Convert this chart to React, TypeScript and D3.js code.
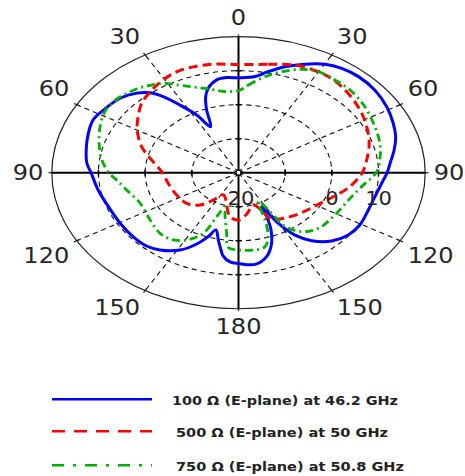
import * as d3 from "d3";

// polar pattern, dB values (angle in degrees, clockwise from top)
const blueAngles = [0.7, 7.1, 12.1, 17.7, 23.0, 30.2, 35.8, 42.3, 50.3, 58.6, 66.3, 72.5, 78.7, 85.1, 90.3, 94.0, 101.6, 111.5, 120.6, 127.9, 135.2, 141.9, 146.6, 150.2, 153.6, 155.0, 157.5, 161.1, 166.3, 172.5, 180.0, 184.0, 187.7, 189.9, 192.3, 196.0, 199.0, 203.1, 208.9, 216.5, 222.4, 230.1, 239.6, 250.3, 260.4, 270.0, 274.9, 281.5, 289.8, 296.5, 302.5, 310.8, 317.0, 321.1, 324.2, 327.8, 332.2, 336.2, 339.7, 342.5, 345.4, 350.3, 354.8];
const blueDb = [7.9, 8.5, 10.4, 12.7, 14.6, 16.9, 17.8, 18.2, 18.0, 17.2, 16.2, 15.3, 14.0, 12.6, 11.8, 11.1, 10.2, 9.9, 10.2, 9.8, 8.3, 5.4, 2.0, -2.8, -8.8, -5.7, -1.8, 1.9, 5.4, 7.2, 6.7, 6.3, 4.7, 2.5, 0.3, -2.5, -0.1, 2.8, 6.0, 8.3, 9.2, 9.4, 9.4, 9.6, 10.5, 11.6, 12.6, 13.3, 14.2, 14.8, 14.3, 13.5, 12.0, 10.2, 7.6, 3.5, -0.8, -5.2, -0.3, 3.4, 5.7, 7.7, 8.1];

const redAngles = [0, 11.3, 20.9, 27.3, 34.3, 41.2, 50.1, 58.4, 67.4, 74.7, 82.3, 90.0, 99.8, 109.2, 119.6, 132.2, 144.4, 153.6, 155.3, 161.5, 171.8, 180.0, 188.0, 206.4, 213.9, 221.0, 230.9, 243.6, 258.3, 270.0, 281.4, 290.2, 300.1, 307.5, 314.5, 321.5, 329.4, 335.9, 342.7, 350.4];
const redDb = [11.8, 12.5, 13.9, 14.2, 14.2, 13.6, 12.5, 11.4, 10.1, 9.0, 7.7, 6.5, 4.2, 1.5, -0.7, -2.2, -3.5, -4.8, -7.3, -10.0, -7.7, -6.1, -6.9, -12.7, -10.3, -7.4, -5.7, -5.2, -4.6, -3.7, -1.0, 2.1, 5.1, 7.1, 9.1, 10.4, 11.7, 12.5, 12.6, 12.4];

const greenAngles = [0.8, 4.7, 11.4, 17.3, 24.0, 29.9, 37.2, 44.5, 54.4, 65.2, 74.1, 81.2, 89.5, 98.9, 108.8, 121.0, 133.7, 142.0, 147.9, 149.2, 153.6, 157.8, 161.3, 165.4, 171.2, 180.0, 185.9, 188.1, 193.1, 196.1, 199.9, 202.9, 209.3, 215.2, 223.3, 233.7, 246.9, 258.0, 265.3, 270.0, 277.3, 286.2, 294.5, 302.1, 307.9, 315.7, 322.4, 328.5, 334.6, 341.0, 347.6, 353.9];
const greenDb = [4.3, 5.9, 8.8, 11.1, 13.3, 14.3, 14.2, 14.1, 13.3, 12.2, 11.5, 10.7, 9.6, 6.7, 4.9, 4.1, 3.7, 2.0, -1.3, -6.1, -10.5, -5.0, -0.1, 2.5, 3.0, 2.7, 2.0, -2.0, -7.2, -9.6, -6.2, -0.6, 2.7, 4.2, 4.5, 3.5, 2.9, 4.5, 6.2, 7.8, 9.5, 11.1, 12.6, 13.8, 14.0, 13.3, 12.2, 10.8, 8.4, 6.5, 5.0, 4.0];

const seriesNames = [
  "100 Ω (E-plane) at 46.2 GHz",
  "500 Ω (E-plane) at 50 GHz",
  "750 Ω (E-plane) at 50.8 GHz",
];

const angleTicks = [0, 30, 60, 90, 120, 150, 180, 210, 240, 270, 300, 330];
const ringTicks = [-10, 0, 10];
const ringLabels = ["20", "0", "10"];
const ringLabelValues = [-20, 0, 10];

const W = 465;
const H = 476;
const cx = 238.5;
const cy = 172.7;
const rx = 186.7;
const ry = 136;

const rScale = d3.scaleLinear().domain([-20, 20]).range([0, 1]);

const pt = (deg: number, db: number): [number, number] => {
  const t = (deg * Math.PI) / 180;
  const k = rScale(db);
  return [cx + rx * k * Math.sin(t), cy - ry * k * Math.cos(t)];
};

const sgn = (v: number) => (Math.abs(v) < 1e-6 ? 0 : Math.sign(v));

const series = [
  { angles: blueAngles, values: blueDb, color: "#0000ff", dash: "none", legendDash: "none", width: 3 },
  { angles: redAngles, values: redDb, color: "#ff0000", dash: "9,5", legendDash: "13,9", width: 3 },
  { angles: greenAngles, values: greenDb, color: "#00b000", dash: "8,4,2,4", legendDash: "12,9,3,9", width: 2.8 },
];

const line = d3
  .line<[number, number]>()
  .curve(d3.curveCatmullRomClosed.alpha(0.5));

const ellipsePath = (db: number) => {
  const k = rScale(db);
  return `M${cx - rx * k},${cy} a${rx * k},${ry * k} 0 1,0 ${2 * rx * k},0 a${rx * k},${ry * k} 0 1,0 ${-2 * rx * k},0`;
};

const App = () => {
  const fontLab = "'DejaVu Sans', Verdana, sans-serif";
  return (
    <svg width={W} height={H} style={{ position: "absolute", left: 0, top: 0, background: "#fff" }}>
      {/* dashed rings */}
      {ringTicks.map((r) => (
        <path key={r} d={ellipsePath(r)} fill="none" stroke="#111" strokeWidth={1.1} strokeDasharray="5,4" />
      ))}
      {/* dashed radials */}
      {angleTicks
        .filter((a) => a % 90 !== 0)
        .map((a) => {
          const [x, y] = pt(a, 20);
          return <line key={a} x1={cx} y1={cy} x2={x} y2={y} stroke="#111" strokeWidth={1.1} strokeDasharray="5,4" />;
        })}
      {/* outer ring */}
      <path d={ellipsePath(20)} fill="none" stroke="#222" strokeWidth={1.2} />
      {/* outer ticks */}
      {angleTicks.map((a) => {
        const [x1, y1] = pt(a, 19.3);
        const [x2, y2] = pt(a, 20.7);
        return <line key={a} x1={x1} y1={y1} x2={x2} y2={y2} stroke="#222" strokeWidth={1.2} />;
      })}
      {/* main axes */}
      <line x1={cx - rx} y1={cy} x2={cx + rx} y2={cy} stroke="#000" strokeWidth={2} />
      <line x1={cx} y1={cy - ry} x2={cx} y2={cy + ry} stroke="#000" strokeWidth={2} />
      {ringTicks.map((r) => {
        const dx = rx * rScale(r);
        const dy = ry * rScale(r);
        return (
          <g key={r} stroke="#000" strokeWidth={1.5}>
            <line x1={cx + dx} y1={cy - 3} x2={cx + dx} y2={cy + 3} />
            <line x1={cx - dx} y1={cy - 3} x2={cx - dx} y2={cy + 3} />
            <line x1={cx - 3} y1={cy - dy} x2={cx + 3} y2={cy - dy} />
            <line x1={cx - 3} y1={cy + dy} x2={cx + 3} y2={cy + dy} />
          </g>
        );
      })}
      <circle cx={cx} cy={cy} r={2.5} fill="#fff" stroke="#000" strokeWidth={1.2} />

      {/* angle labels */}
      {angleTicks.map((a) => {
        const t = (a * Math.PI) / 180;
        const s = Math.sin(t);
        const c = Math.cos(t);
        const txt = String(a <= 180 ? a : 360 - a);
        const w = txt.length * 15.3;
        const x = cx + sgn(s) * (w / 2 + 1.5 + (rx + 7) * Math.abs(s));
        const y = cy - sgn(c) * (12.4 + (ry + 6) * Math.abs(c));
        return (
          <text
            key={a}
            x={x}
            y={y}
            textAnchor="middle"
            dominantBaseline="central"
            fontFamily={fontLab}
            fontSize={20.5}
            fill="#262626"
            textLength={w}
            lengthAdjust="spacingAndGlyphs"
          >
            {txt}
          </text>
        );
      })}

      {/* curves */}
      {series.map((s, i) => (
        <path
          key={i}
          d={line(s.angles.map((a, j) => pt(a, s.values[j]))) || ""}
          fill="none"
          stroke={s.color}
          strokeWidth={s.width}
          strokeDasharray={s.dash}
          strokeLinejoin="round"
        />
      ))}

      {/* radial labels */}
      {ringLabels.map((l, i) => (
        <text
          key={l}
          x={cx + rx * rScale(ringLabelValues[i]) + (i === 0 ? 2.5 : 0)}
          y={cy + 25.3}
          textAnchor="middle"
          dominantBaseline="central"
          fontFamily={fontLab}
          fontSize={19}
          fill="#262626"
          textLength={l.length * 13.4}
          lengthAdjust="spacingAndGlyphs"
        >
          {l}
        </text>
      ))}

      {/* legend */}
      {series.map((s, i) => {
        const ly = [399.3, 431.3, 465.3][i];
        return (
          <g key={i}>
            <line x1={52} x2={152} y1={ly} y2={ly} stroke={s.color} strokeWidth={2.6} strokeDasharray={s.legendDash} />
            <text
              x={i === 0 ? 172 : 176}
              y={ly + 1.5}
              dominantBaseline="central"
              fontFamily={fontLab}
              fontWeight="bold"
              fontSize={11.5}
              fill="#222"
              textLength={[226, 212, 228][i]}
              lengthAdjust="spacingAndGlyphs"
            >
              {seriesNames[i]}
            </text>
          </g>
        );
      })}
    </svg>
  );
};

export default App;
